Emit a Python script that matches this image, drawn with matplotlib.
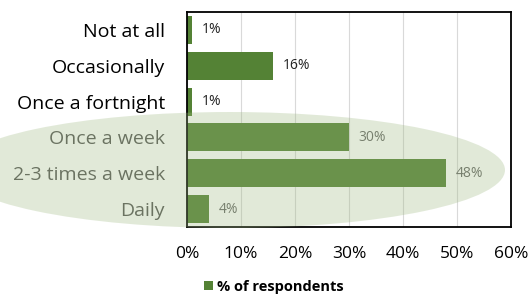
import matplotlib
matplotlib.use("Agg")
import matplotlib.pyplot as plt
from matplotlib.patches import Ellipse

plt.rcParams['font.family'] = ['Open Sans', 'DejaVu Sans']

categories = ['Not at all', 'Occasionally', 'Once a fortnight', 'Once a week',
              '2-3 times a week', 'Daily']
values = [1, 16, 1, 30, 48, 4]
xticks = [0, 10, 20, 30, 40, 50, 60]
series_name = '% of respondents'

green = '#548235'

fig = plt.figure(figsize=(5.28, 2.95), dpi=100)
ax = fig.add_axes([187 / 528, 1 - 227 / 295, 324 / 528, 215 / 295])

pos = list(range(len(categories)))
bars = ax.barh(pos, values, height=0.78, color=green, zorder=2, label=series_name)
ax.set_ylim(len(categories) - 0.5, -0.5)
ax.set_xlim(0, 60)
ax.set_yticks(pos)
ax.set_yticklabels(categories, fontsize=14)
ax.set_xticks(xticks)
ax.set_xticklabels([f'{t}%' for t in xticks], fontsize=12.5)
ax.tick_params(length=0)
ax.tick_params(axis='x', pad=14)
ax.tick_params(axis='y', pad=16)
ax.grid(axis='x', color='#d9d9d9', linewidth=0.8, zorder=0)
for s in ax.spines.values():
    s.set_color('black')
    s.set_linewidth(1.3)

# the lower rows sit under the faded highlight, so their text looks greyer
for lab in ax.get_yticklabels()[3:]:
    lab.set_color('#555555')

for i, v in enumerate(values):
    col = '#222222' if i < 3 else '#666666'
    ax.text(v + 1.8, i, f'{v}%', va='center', ha='left', fontsize=10, color=col, zorder=3)

# highlight ellipse over the lower categories
ell = Ellipse((230 / 528, 1 - 170 / 295), 550 / 528, 116 / 295,
              transform=fig.transFigure, facecolor='#9eb980', edgecolor='none',
              alpha=0.3, zorder=5)
fig.patches.append(ell)

leg = fig.legend(handles=[bars], labels=[series_name], loc='center',
                 bbox_to_anchor=(274 / 528, 1 - 287 / 295), frameon=False,
                 handlelength=0.6, handleheight=0.6, handletextpad=0.25,
                 prop={'weight': 'bold', 'size': 10.5})

fig.savefig('out.png', dpi=100)
